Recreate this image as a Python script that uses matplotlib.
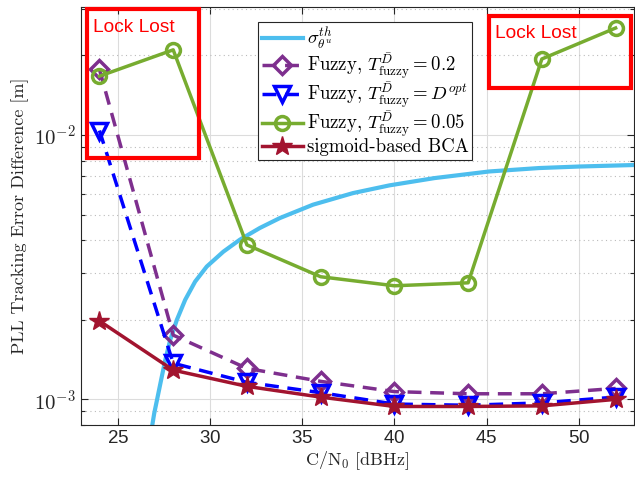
import matplotlib
matplotlib.use('Agg')
import matplotlib.pyplot as plt
import matplotlib.patches as patches
from matplotlib.ticker import FixedLocator, LogLocator, NullFormatter, FuncFormatter
import numpy as np

plt.rcParams['font.family'] = 'cmr10'
plt.rcParams['mathtext.fontset'] = 'cm'
plt.rcParams['axes.formatter.use_mathtext'] = True

# C/N0 points
cn0 = [24, 28, 32, 36, 40, 44, 48, 52]

# tracking error difference [m]
fuzzy_02 = [1.77e-2, 1.75e-3, 1.31e-3, 1.17e-3, 1.07e-3, 1.05e-3, 1.05e-3, 1.10e-3]
fuzzy_dopt = [1.04e-2, 1.37e-3, 1.16e-3, 1.06e-3, 9.6e-4, 9.5e-4, 9.7e-4, 1.02e-3]
fuzzy_005 = [1.67e-2, 2.10e-2, 3.84e-3, 2.91e-3, 2.69e-3, 2.76e-3, 1.94e-2, 2.54e-2]
bca = [1.98e-3, 1.29e-3, 1.12e-3, 1.02e-3, 9.4e-4, 9.4e-4, 9.45e-4, 1.0e-3]

# threshold curve sigma_th
th_x = [26.85, 26.97, 27.12, 27.34, 27.57, 27.84, 28.20, 28.65, 29.19, 29.82,
        30.72, 31.62, 32.70, 33.78, 35.58, 37.75, 39.73, 42.16, 45.14, 47.84,
        50.0, 52.97]
th_y = [7.87e-4, 8.85e-4, 9.94e-4, 1.18e-3, 1.41e-3, 1.68e-3, 2.0e-3, 2.38e-3,
        2.79e-3, 3.18e-3, 3.62e-3, 4.02e-3, 4.45e-3, 4.85e-3, 5.45e-3, 6.03e-3,
        6.45e-3, 6.87e-3, 7.28e-3, 7.5e-3, 7.6e-3, 7.7e-3]

c_sky = '#4DBEEE'
c_purple = '#7E2F8E'
c_blue = '#0000FF'
c_green = '#77AC30'
c_red = '#A2142F'

fig = plt.figure(figsize=(6.35, 4.8), dpi=100)
ax = fig.add_axes([0.1276, 0.1146, 0.8709, 0.8708])

ax.plot(th_x, th_y, color=c_sky, lw=3, label=r'$\sigma^{th}_{\theta^u}$')
ax.plot(cn0, fuzzy_02, color=c_purple, lw=2.5, dashes=(4, 2.5), marker='D', ms=9,
        mfc='none', mew=2.5, label=r'Fuzzy, $T^{\bar{D}}_{\mathrm{fuzzy}} = 0.2$')
ax.plot(cn0, fuzzy_dopt, color=c_blue, lw=2.5, dashes=(4, 2.5), marker='v', ms=12,
        mfc='none', mew=2.5, label=r'Fuzzy, $T^{\bar{D}}_{\mathrm{fuzzy}} = D^{opt}$')
ax.plot(cn0, fuzzy_005, color=c_green, lw=2.5, marker='o', ms=10,
        mfc='none', mew=2.5, label=r'Fuzzy, $T^{\bar{D}}_{\mathrm{fuzzy}} = 0.05$')
ax.plot(cn0, bca, color=c_red, lw=2.5, marker='*', ms=15,
        label='sigmoid-based BCA')

ax.set_yscale('log')
ax.set_xlim(23, 53)
ax.set_ylim(8.0e-4, 3.05e-2)

ax.xaxis.set_major_locator(FixedLocator([25, 30, 35, 40, 45, 50]))
ax.yaxis.set_major_locator(FixedLocator([1e-3, 1e-2]))
ax.yaxis.set_minor_locator(LogLocator(base=10, subs=np.arange(2, 10)))
ax.yaxis.set_minor_formatter(NullFormatter())
ax.yaxis.set_major_formatter(FuncFormatter(
    lambda v, p: r'$\mathsf{10^{%d}}$' % int(round(np.log10(v)))))

ax.tick_params(which='both', direction='in', top=True, right=True,
               color='#262626', width=0.8)
ax.tick_params(which='major', length=5)
ax.tick_params(which='minor', length=3)
ax.tick_params(axis='x', labelsize=13.5, labelfontfamily='Liberation Sans',
               labelcolor='#262626')
ax.tick_params(axis='y', labelsize=15, labelcolor='#262626')

ax.grid(True, which='major', color='#DCDCDC', lw=0.8, ls='-')
ax.grid(True, which='minor', axis='y', color='#BBBBBB', lw=0.8, ls=(0, (1, 3)))
ax.set_axisbelow(True)
for s in ax.spines.values():
    s.set_color('#262626')
    s.set_linewidth(0.8)

ax.set_xlabel(r'C/N$_0$ [dBHz]', fontsize=13, color='#262626', labelpad=2)
ax.set_ylabel('PLL Tracking Error Difference [m]', fontsize=13, color='#262626',
              labelpad=4)

# lock lost boxes
ax.add_patch(patches.Rectangle((0.00995, 0.6376), 0.2025, 0.3577, transform=ax.transAxes,
                               fill=False, ec='red', lw=3, clip_on=False, zorder=5))
ax.add_patch(patches.Rectangle((0.737, 0.8062), 0.2568, 0.1734, transform=ax.transAxes,
                               fill=False, ec='red', lw=3, clip_on=False, zorder=5))
ax.text(0.0217, 0.971, 'Lock Lost', transform=ax.transAxes, color='red',
        fontsize=13.8, family='Liberation Sans', va='top', ha='left')
ax.text(0.7486, 0.957, 'Lock Lost', transform=ax.transAxes, color='red',
        fontsize=13.8, family='Liberation Sans', va='top', ha='left')

leg = ax.legend(loc='upper left', bbox_to_anchor=(0.32, 0.964), fontsize=13.5,
                handlelength=2.2, handletextpad=0.2, labelspacing=-0.04,
                borderpad=0.2, borderaxespad=0, fancybox=False, framealpha=1,
                edgecolor='#262626')
leg.get_frame().set_linewidth(0.8)

fig.savefig('out.png', dpi=100)
